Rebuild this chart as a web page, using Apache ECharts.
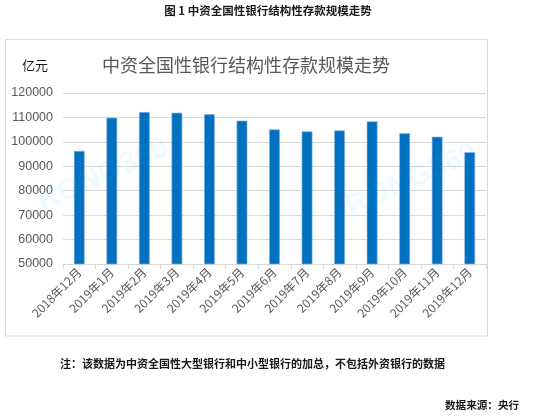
<!DOCTYPE html>
<html>
<head>
<meta charset="utf-8">
<script src="https://cdn.jsdelivr.net/npm/echarts@6/dist/echarts.min.js"></script>
<style>
html,body{margin:0;padding:0;background:#fff;}
#c{width:536px;height:418px;}
</style>
</head>
<body>
<div id="c"></div>
<script>
const categories = ['2018年12月','2019年1月','2019年2月','2019年3月','2019年4月','2019年5月','2019年6月','2019年7月','2019年8月','2019年9月','2019年10月','2019年11月','2019年12月'];
const deposits = [96300, 109900, 112200, 111900, 111300, 108700, 105100, 104300, 104700, 108400, 103500, 102100, 95800];
const yMin = 50000, yMax = 120000, yStep = 10000;
const captionText = '图 1 中资全国性银行结构性存款规模走势';
const titleText = '中资全国性银行结构性存款规模走势';
const unitText = '亿元';
const noteText = '注：该数据为中资全国性大型银行和中小型银行的加总，不包括外资银行的数据';
const sourceText = '数据来源：央行';
const watermark = 'RONG360';

const font = '"Noto Sans CJK SC", "Liberation Sans", sans-serif';
const chart = echarts.init(document.getElementById('c'));
chart.setOption({
  animation: false,
  backgroundColor: '#fff',
  textStyle: {fontFamily: font},
  title: {
    text: titleText, left: 97, top: 51,
    textStyle: {fontSize: 18, fontWeight: 'normal', color: '#595959', fontFamily: font}
  },
  grid: {left: 63, right: 50, top: 93, bottom: 154},
  xAxis: {
    type: 'category', data: categories,
    axisLine: {lineStyle: {color: '#d9d9d9'}},
    axisTick: {show: true, length: 5, lineStyle: {color: '#d9d9d9'}},
    axisLabel: {rotate: 45, fontSize: 12, color: '#595959', margin: 6, interval: 0, fontFamily: font}
  },
  yAxis: {
    type: 'value', min: yMin, max: yMax, interval: yStep,
    axisLine: {show: false}, axisTick: {show: false},
    axisLabel: {fontSize: 12.5, color: '#595959', margin: 10, fontFamily: '"Liberation Sans", sans-serif',
      formatter: v => String(v)},
    splitLine: {lineStyle: {color: '#d9d9d9'}}
  },
  series: [{
    type: 'bar', data: deposits, barWidth: '33%',
    itemStyle: {color: '#0070c0', borderColor: '#8fb3dd', borderWidth: 0.6}
  }],
  graphic: [
    {type: 'rect', shape: {x: 5.5, y: 39.5, width: 482, height: 296.5}, style: {fill: null, stroke: '#d9d9d9', lineWidth: 1}, z: -1},
    {type: 'text', left: 'center', top: 5, style: {text: captionText, font: 'bold 11.5px ' + font, fill: '#1a1a1a'}},
    {type: 'text', x: 22, y: 59, style: {text: unitText, font: '13px ' + font, fill: '#1a1a1a'}},
    {type: 'text', x: 60, y: 358, style: {text: noteText, font: 'bold 11px ' + font, fill: '#1a1a1a'}},
    {type: 'text', x: 445, y: 400, style: {text: sourceText, font: 'bold 10.6px ' + font, fill: '#1a1a1a'}},
    {type: 'text', x: 103, y: 175, rotation: 0.42, style: {text: watermark, font: 'bold 30px "Liberation Sans", sans-serif', fill: 'rgba(0,190,240,0.07)', align: 'center', verticalAlign: 'middle'}, z: 100},
    {type: 'text', x: 412, y: 180, rotation: 0.42, style: {text: watermark, font: 'bold 30px "Liberation Sans", sans-serif', fill: 'rgba(0,190,240,0.07)', align: 'center', verticalAlign: 'middle'}, z: 100}
  ]
});
</script>
</body>
</html>
